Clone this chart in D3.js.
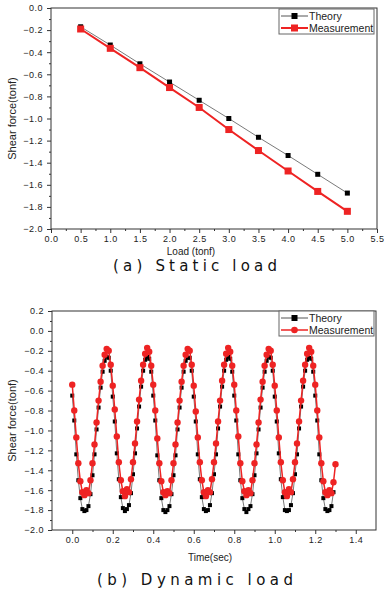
<!DOCTYPE html>
<html>
<head>
<meta charset="utf-8">
<script src="https://cdn.jsdelivr.net/npm/d3@7"></script>
<style>
  body { margin: 0; background: #fff; }
  svg { display: block; font-family: "Liberation Sans", Arial, sans-serif; }
</style>
</head>
<body>
<svg id="chart" width="384" height="591"></svg>
<script>
// ---- static load data ----
const staticLoad = [0.5, 1.0, 1.5, 2.0, 2.5, 3.0, 3.5, 4.0, 4.5, 5.0];
const staticTheory = [-0.17, -0.335, -0.505, -0.67, -0.835, -1.0, -1.17, -1.335, -1.505, -1.675];
const staticMeasured = [-0.19, -0.365, -0.54, -0.72, -0.90, -1.10, -1.29, -1.475, -1.66, -1.84];

// ---- dynamic load data (sampled every 0.01 sec from 0.00) ----
const sampleStep = 0.01;
const dynTheory = [
  -0.65, -0.90, -1.24, -1.50, -1.68, -1.79, -1.81, -1.80, -1.76, -1.64, -1.45, -1.24, -0.99, -0.77, -0.57, -0.41, -0.30, -0.26, -0.27, -0.40,
  -0.66, -0.91, -1.23, -1.49, -1.67, -1.78, -1.81, -1.79, -1.75, -1.63, -1.44, -1.23, -0.98, -0.76, -0.56, -0.40, -0.29, -0.26, -0.28, -0.41,
  -0.65, -0.90, -1.25, -1.50, -1.68, -1.80, -1.82, -1.80, -1.76, -1.64, -1.45, -1.25, -0.99, -0.77, -0.57, -0.41, -0.30, -0.27, -0.27, -0.40,
  -0.66, -0.91, -1.24, -1.49, -1.67, -1.79, -1.81, -1.80, -1.75, -1.63, -1.44, -1.24, -0.98, -0.76, -0.56, -0.40, -0.29, -0.26, -0.28, -0.41,
  -0.65, -0.90, -1.24, -1.50, -1.68, -1.79, -1.82, -1.79, -1.76, -1.64, -1.45, -1.23, -0.99, -0.77, -0.57, -0.41, -0.30, -0.26, -0.27, -0.40,
  -0.66, -0.91, -1.23, -1.49, -1.67, -1.80, -1.81, -1.80, -1.75, -1.63, -1.44, -1.24, -0.98, -0.76, -0.56, -0.40, -0.29, -0.27, -0.28, -0.41,
  -0.65, -0.90, -1.24, -1.50, -1.68, -1.79, -1.81, -1.80, -1.76, -1.62
];
const dynMeasured = [
  -0.54, -0.80, -1.07, -1.33, -1.51, -1.62, -1.65, -1.60, -1.63, -1.50, -1.33, -1.14, -0.92, -0.70, -0.51, -0.35, -0.24, -0.18, -0.20, -0.34,
  -0.55, -0.79, -1.06, -1.32, -1.50, -1.61, -1.66, -1.59, -1.62, -1.49, -1.32, -1.13, -0.91, -0.69, -0.50, -0.34, -0.23, -0.17, -0.21, -0.35,
  -0.54, -0.80, -1.08, -1.33, -1.51, -1.62, -1.65, -1.61, -1.63, -1.50, -1.33, -1.14, -0.92, -0.70, -0.51, -0.35, -0.24, -0.18, -0.20, -0.34,
  -0.55, -0.81, -1.07, -1.32, -1.50, -1.62, -1.66, -1.60, -1.62, -1.49, -1.32, -1.13, -0.91, -0.70, -0.50, -0.34, -0.23, -0.17, -0.21, -0.35,
  -0.54, -0.80, -1.06, -1.33, -1.51, -1.61, -1.65, -1.60, -1.63, -1.50, -1.33, -1.14, -0.92, -0.69, -0.51, -0.35, -0.24, -0.18, -0.20, -0.34,
  -0.55, -0.80, -1.07, -1.32, -1.50, -1.62, -1.66, -1.59, -1.62, -1.49, -1.32, -1.13, -0.91, -0.70, -0.50, -0.34, -0.23, -0.17, -0.21, -0.35,
  -0.54, -0.80, -1.07, -1.33, -1.51, -1.62, -1.65, -1.60, -1.63, -1.52, -1.34
];

const seriesNames = ["Theory", "Measurement"];
const red = "#ee2323";

const svg = d3.select("#chart");

function drawPanel(opt) {
  const g = svg.append("g");
  const x = d3.scaleLinear().domain(opt.xDomain).range([opt.left, opt.right]);
  const y = d3.scaleLinear().domain(opt.yDomain).range([opt.bottom, opt.top]);

  // minor ticks
  g.append("g")
    .attr("transform", `translate(0,${opt.bottom})`)
    .call(d3.axisBottom(x).tickValues(opt.xMinor).tickSize(2).tickFormat(""))
    .call(a => a.select(".domain").remove());
  g.append("g")
    .attr("transform", `translate(${opt.left},0)`)
    .call(d3.axisLeft(y).tickValues(opt.yMinor).tickSize(2).tickFormat(""))
    .call(a => a.select(".domain").remove());

  // major ticks + labels
  const xAxis = g.append("g")
    .attr("transform", `translate(0,${opt.bottom})`)
    .call(d3.axisBottom(x).tickValues(opt.xTicks).tickSize(4).tickPadding(3).tickFormat(d3.format(".1f")));
  const yAxis = g.append("g")
    .attr("transform", `translate(${opt.left},0)`)
    .call(d3.axisLeft(y).tickValues(opt.yTicks).tickSize(4).tickPadding(4).tickFormat(d3.format(".1f")));
  [xAxis, yAxis].forEach(a => {
    a.select(".domain").remove();
    a.selectAll("text").attr("font-size", "9px").attr("fill", "#222").attr("letter-spacing", "0.5px")
      .attr("font-family", "'Liberation Sans', Arial, sans-serif");
  });
  g.selectAll(".tick line").attr("stroke", "#333");

  // frame
  g.append("rect")
    .attr("x", opt.left).attr("y", opt.top)
    .attr("width", opt.right - opt.left).attr("height", opt.bottom - opt.top)
    .attr("fill", "none").attr("stroke", "#333").attr("stroke-width", 1);

  // axis titles
  g.append("text")
    .attr("transform", `translate(${opt.yTitleX},${(opt.top + opt.bottom) / 2}) rotate(-90)`)
    .attr("text-anchor", "middle")
    .attr("font-size", "11px")
    .attr("fill", "#222")
    .text("Shear force(tonf)");
  g.append("text")
    .attr("x", opt.xTitleX).attr("y", opt.xTitleY)
    .attr("text-anchor", "middle")
    .attr("font-size", "10px")
    .attr("fill", "#222")
    .text(opt.xTitle);

  // caption
  g.append("text")
    .attr("x", opt.capX).attr("y", opt.capY)
    .attr("textLength", opt.capLen)
    .attr("lengthAdjust", "spacing")
    .attr("font-family", "'DejaVu Sans', sans-serif")
    .attr("font-size", "15px")
    .attr("fill", "#111")
    .text(opt.caption);

  const line = d3.line().x(d => x(d[0])).y(d => y(d[1]));

  // theory
  g.append("path").datum(opt.theory)
    .attr("d", line).attr("fill", "none").attr("stroke", "#7a7a7a").attr("stroke-width", 1);
  g.selectAll(".th").data(opt.theory).enter().append("rect")
    .attr("x", d => x(d[0]) - opt.thSize / 2).attr("y", d => y(d[1]) - opt.thSize / 2)
    .attr("width", opt.thSize).attr("height", opt.thSize).attr("fill", "#000");

  // measurement
  g.append("path").datum(opt.measured)
    .attr("d", line).attr("fill", "none").attr("stroke", red).attr("stroke-width", opt.meLine);
  if (opt.meShape === "square") {
    g.selectAll(".me").data(opt.measured).enter().append("rect")
      .attr("x", d => x(d[0]) - 3.5).attr("y", d => y(d[1]) - 3.5)
      .attr("width", 7).attr("height", 7).attr("fill", red);
  } else {
    g.selectAll(".me").data(opt.measured).enter().append("circle")
      .attr("cx", d => x(d[0])).attr("cy", d => y(d[1])).attr("r", 3.2).attr("fill", red);
  }

  // legend
  const lg = g.append("g");
  lg.append("rect")
    .attr("x", opt.legX).attr("y", opt.legY).attr("width", 95).attr("height", 25)
    .attr("fill", "#fff").attr("stroke", "#666").attr("stroke-width", 1);
  seriesNames.forEach((name, i) => {
    const cy = opt.legY + 7 + i * 12;
    lg.append("line")
      .attr("x1", opt.legX + 2).attr("x2", opt.legX + 29).attr("y1", cy).attr("y2", cy)
      .attr("stroke", i === 0 ? "#555" : red).attr("stroke-width", i === 0 ? 1 : opt.meLine);
    if (i === 0) {
      lg.append("rect").attr("x", opt.legX + 12.5).attr("y", cy - 3).attr("width", 6).attr("height", 6).attr("fill", "#000");
    } else if (opt.meShape === "square") {
      lg.append("rect").attr("x", opt.legX + 12).attr("y", cy - 3.5).attr("width", 7).attr("height", 7).attr("fill", red);
    } else {
      lg.append("circle").attr("cx", opt.legX + 15.5).attr("cy", cy).attr("r", 3.3).attr("fill", red);
    }
    lg.append("text")
      .attr("x", opt.legX + 30).attr("y", cy + 3.8)
      .attr("font-size", "10.5px").attr("fill", "#222")
      .text(name);
  });
}

drawPanel({
  left: 51, right: 377, top: 8, bottom: 229,
  xDomain: [0, 5.5], yDomain: [-2.0, 0.0],
  xTicks: d3.range(0, 5.51, 0.5), xMinor: d3.range(0.25, 5.5, 0.5),
  yTicks: d3.range(-2.0, 0.01, 0.2), yMinor: d3.range(-1.9, 0, 0.2),
  theory: staticLoad.map((v, i) => [v, staticTheory[i]]),
  measured: staticLoad.map((v, i) => [v, staticMeasured[i]]),
  thSize: 5, meLine: 2, meShape: "square",
  yTitleX: 16, xTitle: "Load (tonf)", xTitleX: 191, xTitleY: 255,
  caption: "(a)  Static  load", capX: 113, capY: 271, capLen: 164,
  legX: 279, legY: 9
});

drawPanel({
  left: 52, right: 376, top: 311, bottom: 530,
  xDomain: [-0.1, 1.5], yDomain: [-2.0, 0.2],
  xTicks: d3.range(0, 1.41, 0.2), xMinor: d3.range(0.1, 1.5, 0.2),
  yTicks: d3.range(-2.0, 0.21, 0.2), yMinor: d3.range(-1.9, 0.2, 0.2),
  theory: dynTheory.map((v, i) => [i * sampleStep, v]),
  measured: dynMeasured.map((v, i) => [i * sampleStep, v]),
  thSize: 4, meLine: 1.5, meShape: "circle",
  yTitleX: 16, xTitle: "Time(sec)", xTitleX: 210, xTitleY: 561,
  caption: "(b)  Dynamic  load", capX: 97, capY: 585, capLen: 196,
  legX: 279, legY: 311
});
</script>
</body>
</html>
